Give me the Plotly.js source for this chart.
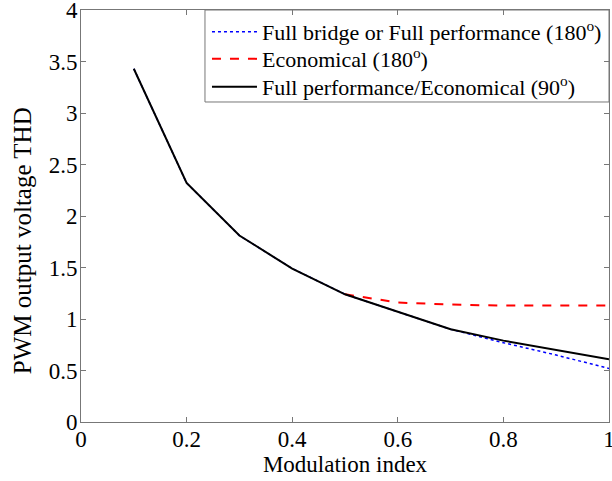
<!DOCTYPE html>
<html><head><meta charset="utf-8">
<script src="https://cdn.plot.ly/plotly-3.0.1.min.js"></script>
<style>html,body{margin:0;padding:0;background:#fff;}#chart{width:612px;height:481px;}</style>
</head><body><div id="chart"></div>
<script>
const modIndex = [0.1, 0.2, 0.3, 0.4, 0.5, 0.6, 0.7, 0.8, 0.9, 1.0];
const fullBridge180 = [3.43, 2.32, 1.81, 1.49, 1.24, 1.07, 0.90, 0.77, 0.65, 0.52];
const economical180 = [null, null, null, null, 1.24, 1.16, 1.14, 1.13, 1.13, 1.13];
const fullPerf90 = [3.43, 2.32, 1.81, 1.49, 1.24, 1.07, 0.90, 0.79, 0.70, 0.61];
const names = ["Full bridge or Full performance (180<sup>o</sup>)", "Economical (180<sup>o</sup>)", "Full performance/Economical (90<sup>o</sup>)"];
const xTicks = [0, 0.2, 0.4, 0.6, 0.8, 1];
const yTicks = [0, 0.5, 1, 1.5, 2, 2.5, 3, 3.5, 4];
const xTitle = "Modulation index";
const yTitle = "PWM output voltage THD";

const font = "Liberation Serif";
const legFont = {family: font, size: 22, color: "#000"};
const traces = [
  {x: modIndex, y: fullBridge180, name: names[0], mode: "lines", legend: "legend", line: {color: "#0000ff", dash: "dot", width: 1.5}},
  {x: modIndex, y: economical180, name: names[1], mode: "lines", legend: "legend2", line: {color: "#ff0000", dash: "dash", width: 2}},
  {x: modIndex, y: fullPerf90, name: names[2], mode: "lines", legend: "legend3", line: {color: "#000000", dash: "solid", width: 2}}
];
const axisCommon = {
  showgrid: false, zeroline: false, showline: true, linecolor: "#777", linewidth: 1,
  mirror: "ticks", ticks: "inside", ticklen: 5, tickcolor: "#777",
  ticklabeloverflow: "allow",
  tickfont: {family: font, size: 23, color: "#000"}
};
function leg(y) {
  return {x: 0.2386, y: y, xanchor: "left", yanchor: "middle", bgcolor: "rgba(0,0,0,0)", borderwidth: 0,
    itemwidth: 45, font: legFont};
}
const layout = {
  width: 612, height: 481,
  margin: {l: 81, r: 3, t: 10, b: 59},
  paper_bgcolor: "#fff", plot_bgcolor: "#fff",
  xaxis: Object.assign({}, axisCommon, {range: [0, 1], tickvals: xTicks, ticktext: xTicks.map(String),
    ticklabelstandoff: -4,
    title: {text: xTitle, font: {family: font, size: 23, color: "#000"}, standoff: 0}}),
  yaxis: Object.assign({}, axisCommon, {range: [0, 4], tickvals: yTicks, ticktext: yTicks.map(String),
    ticklabelstandoff: -2}),
  annotations: [{text: yTitle, xref: "paper", yref: "paper", x: -0.1117, y: 0.439, xanchor: "center", yanchor: "middle",
    textangle: -90, showarrow: false, font: {family: font, size: 25, color: "#000"}}],
  shapes: [{type: "rect", xref: "paper", yref: "paper", x0: 0.2348, x1: 1, y0: 0.7767, y1: 1,
    line: {color: "#777", width: 1}, fillcolor: "#fff", layer: "below"}],
  showlegend: true,
  legend: leg(0.9466),
  legend2: leg(0.881),
  legend3: leg(0.813)
};
Plotly.newPlot("chart", traces, layout, {displayModeBar: false, staticPlot: true});
</script></body></html>
